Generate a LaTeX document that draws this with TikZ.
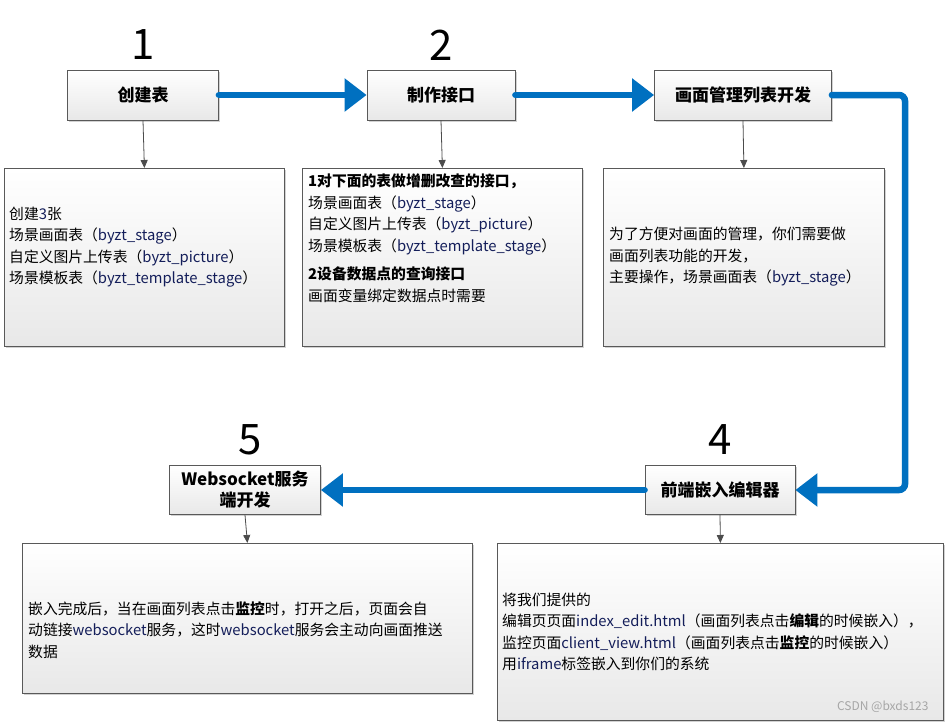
\documentclass[tikz,border=0pt]{standalone}
\usepackage{fontspec}
\setmainfont{Noto Sans CJK SC}
\usetikzlibrary{shadows,arrows.meta}
\definecolor{flow}{RGB}{0,112,192}
\definecolor{lat}{RGB}{20,30,90}
\begin{document}
\begin{tikzpicture}[x=1pt,y=-1pt,
  box/.style={draw=gray!70!black,line width=0.8pt,top color=white,bottom color=gray!18,drop shadow={shadow xshift=1.5pt,shadow yshift=-1.5pt,opacity=0.35}},
  title/.style={font=\fontsize{17}{21}\selectfont\bfseries,align=center},
  body/.style={font=\fontsize{14.8}{21.5}\selectfont,align=left,anchor=west,inner sep=0pt},
  num/.style={font=\fontsize{42}{42}\selectfont},
  flowline/.style={line width=6.5pt,draw=flow,line cap=round,-{Triangle[length=22pt,width=32pt]}},
  down/.style={draw=gray!60!black,line width=0.8pt,-{Triangle[length=8pt,width=7pt]}}]
\useasboundingbox (0,0) rectangle (946,723);
\fill[white] (0,0) rectangle (946,723);
\newcommand{\la}[1]{{\color{lat}#1}}
% title boxes
\node[box,title,minimum width=151pt,minimum height=50pt] (t1) at (143,95) {创建表};
\node[box,title,minimum width=148pt,minimum height=50pt] (t2) at (441,95) {制作接口};
\node[box,title,minimum width=177pt,minimum height=50pt] (t3) at (743,95) {画面管理列表开发};
\node[box,title,minimum width=150pt,minimum height=49pt] (t4) at (720,490) {前端嵌入编辑器};
\node[box,title,minimum width=151pt,minimum height=49pt,inner sep=1pt] (t5) at (245,490) {Websocket服务\\端开发};
% numbers
\node[num] (n1) at (143,45) {1};
\node[num] (n2) at (441,45) {2};
\node[num] (n4) at (720,440) {4};
\node[num] (n5) at (250,440) {5};
% text boxes
\node[box,minimum width=280pt,minimum height=178pt,anchor=north west] (b1) at (4,168) {};
\node[box,minimum width=280pt,minimum height=178pt,anchor=north west] (b2) at (302,168) {};
\node[box,minimum width=281pt,minimum height=178pt,anchor=north west] (b3) at (603,168) {};
\node[box,minimum width=450pt,minimum height=150pt,anchor=north west] (b5) at (22,543) {};
\node[box,minimum width=446pt,minimum height=177pt,anchor=north west] (b4) at (497,543) {};
\node[body] (x1) at (9,247) {创建\la{3}张\\场景画面表（\la{byzt\_stage}）\\自定义图片上传表（\la{byzt\_picture}）\\场景模板表（\la{byzt\_template\_stage}）};
\node[body,anchor=north west] (x2) at (308,174) {\textbf{1对下面的表做增删改查的接口，}\\场景画面表（\la{byzt\_stage}）\\自定义图片上传表（\la{byzt\_picture}）\\场景模板表（\la{byzt\_template\_stage}）\\[7pt]\textbf{2设备数据点的查询接口}\\画面变量绑定数据点时需要};
\node[body] (x3) at (609,257) {为了方便对画面的管理，你们需要做\\画面列表功能的开发，\\主要操作，场景画面表（\la{byzt\_stage}）};
\node[body] (x5) at (28,630) {嵌入完成后，当在画面列表点击\textbf{监控}时，打开之后，页面会自\\动链接\la{websocket}服务，这时\la{websocket}服务会主动向画面推送\\数据};
\node[body] (x4) at (502,632) {将我们提供的\\编辑页页面\la{index\_edit.html}（画面列表点击\textbf{编辑}的时候嵌入），\\监控页面\la{client\_view.html}（画面列表点击\textbf{监控}的时候嵌入）\\用\la{iframe}标签嵌入到你们的系统};
\node[font=\fontsize{12}{14}\selectfont,text=gray!70,anchor=east] (wm) at (932,707) {CSDN @bxds123};
% flow arrows
\coordinate (c1) at (905,95);
\coordinate (c2) at (905,490);
\draw[flowline] (t1.east) -- (t2.west);
\draw[flowline] (t2.east) -- (t3.west);
\draw[flowline,rounded corners=6pt] (t3.east) -- (c1) -- (c2) -- (t4.east);
\draw[flowline] (t4.west) -- (t5.east);
% down arrows
\draw[down] (t1.south) -- (b1.north);
\draw[down] (t2.south) -- (b2.north);
\draw[down] (t3.south) -- (b3.north);
\draw[down] (t4.south) -- (b4.north);
\draw[down] (t5.south) -- (b5.north);
\end{tikzpicture}
\end{document}
